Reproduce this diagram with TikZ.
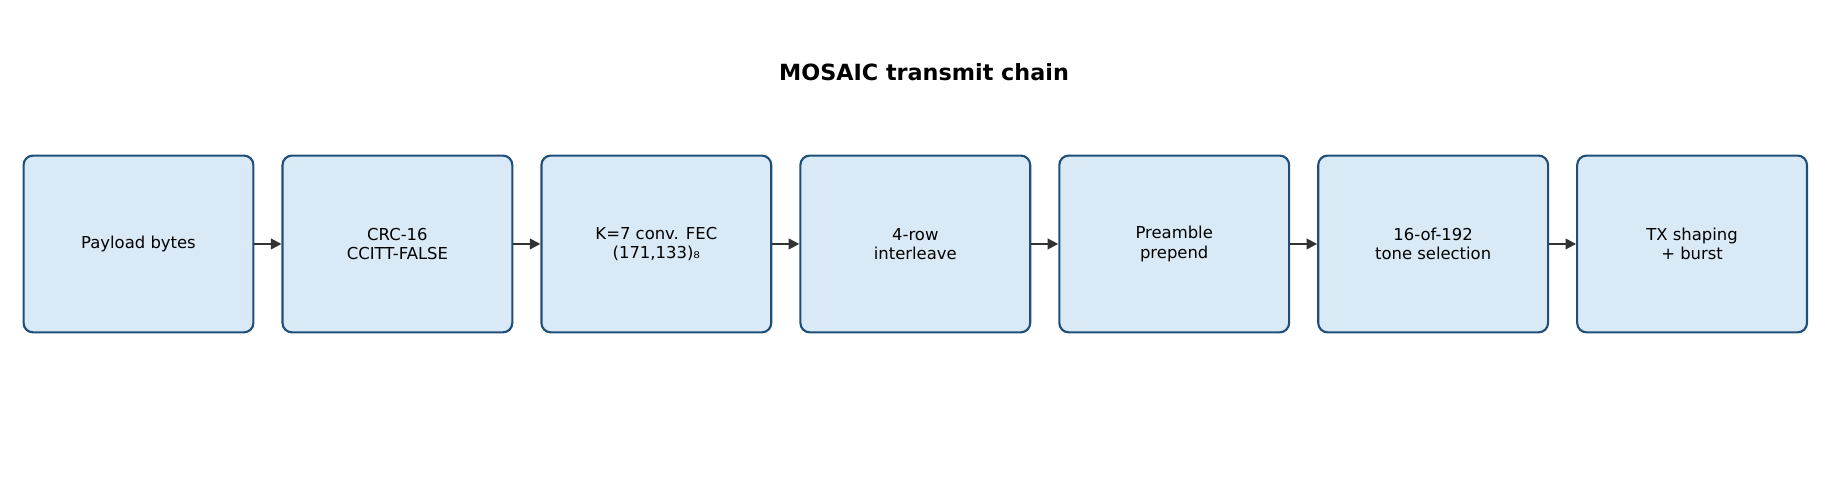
\documentclass[tikz,border=0pt]{standalone}
\usepackage{fontspec}
\setmainfont{DejaVu Sans}
\usetikzlibrary{arrows.meta}
\definecolor{bfill}{HTML}{D9EAF6}
\definecolor{bline}{HTML}{1F4E79}
\definecolor{arr}{HTML}{333333}
\begin{document}
\begin{tikzpicture}[x=1bp,y=-1bp,
  box/.style={draw=bline,fill=bfill,line width=1.8bp,rounded corners=8bp,minimum width=195bp,minimum height=150bp,align=center,font=\fontsize{14}{16.5}\selectfont,inner sep=0pt},
  conn/.style={draw=arr,line width=1.8bp,-{Triangle[length=9bp,width=9bp]}}]
\useasboundingbox (0,0) rectangle (1568,415);
\node[font=\fontsize{19}{22}\selectfont\bfseries] (title) at (784,61) {MOSAIC transmit chain};
\foreach \i/\t in {0/{Payload bytes},1/{CRC-16\\CCITT-FALSE},2/{K=7 conv. FEC\\(171,133)₈},3/{4-row\\interleave},4/{Preamble\\prepend},5/{16-of-192\\tone selection},6/{TX shaping\\+ burst}}
  \node[box] (b\i) at ({117.5+219.7*\i},207) {\t};
\foreach \i [evaluate=\i as \j using int(\i+1)] in {0,...,5}
  \draw[conn] (b\i.east) -- (b\j.west);
\end{tikzpicture}
\end{document}
